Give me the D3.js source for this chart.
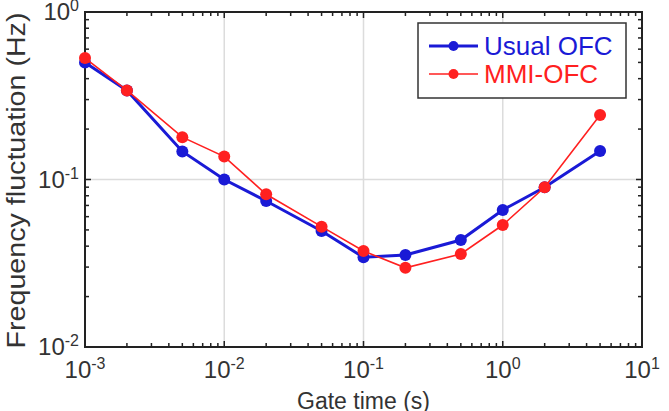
<!DOCTYPE html>
<html>
<head>
<meta charset="utf-8">
<script src="https://cdn.jsdelivr.net/npm/d3@7"></script>
<style>
  html, body { margin: 0; padding: 0; background: #fff; }
  svg { display: block; font-family: "Liberation Sans", Arial, sans-serif; }
</style>
</head>
<body>
<div id="chart"></div>
<script>
(function() {

// gate times (s)
var gateTimes = [1e-3, 2e-3, 5e-3, 1e-2, 2e-2, 5e-2, 0.1, 0.2, 0.5, 1, 2, 5];
// frequency fluctuation (Hz)
var usualOFC = [0.50, 0.34, 0.147, 0.100, 0.0744, 0.0493, 0.0343, 0.0354, 0.0435, 0.0658, 0.0898, 0.148];
var mmiOFC   = [0.531, 0.34, 0.179, 0.137, 0.0816, 0.0523, 0.0374, 0.0297, 0.0359, 0.0535, 0.0898, 0.243];

var xTickExps = [-3, -2, -1, 0, 1];
var yTickExps = [-2, -1, 0];
var seriesNames = ['Usual OFC', 'MMI-OFC'];
var seriesColors = ['#1a1ad6', '#ff2020'];

var W = 669, H = 411;
var left = 85, right = 642, top = 12, bottom = 347;

var svg = d3.select('#chart').append('svg')
	.attr('width', W)
	.attr('height', H);

var x = d3.scaleLog().domain([1e-3, 1e1]).range([left, right]);
var y = d3.scaleLog().domain([1e-2, 1]).range([bottom, top]);

// grid at major decades
var g = svg.append('g').attr('class', 'grid');
xTickExps.slice(1, -1).forEach(function(e) {
	g.append('line')
		.attr('x1', x(Math.pow(10, e))).attr('x2', x(Math.pow(10, e)))
		.attr('y1', top).attr('y2', bottom)
		.attr('stroke', '#dcdcdc').attr('stroke-width', 1.5);
});
yTickExps.slice(1, -1).forEach(function(e) {
	g.append('line')
		.attr('x1', left).attr('x2', right)
		.attr('y1', y(Math.pow(10, e))).attr('y2', y(Math.pow(10, e)))
		.attr('stroke', '#dcdcdc').attr('stroke-width', 1.5);
});

// ticks (inward, all four sides)
var xTicks = x.ticks();
var yTicks = y.ticks();
function isMajor(v) {
	var l = Math.log10(v);
	return Math.abs(l - Math.round(l)) < 1e-9;
}
var ticks = svg.append('g').attr('class', 'ticks')
	.attr('stroke', '#222').attr('stroke-width', 1.5);
xTicks.forEach(function(v) {
	var len = isMajor(v) ? 6 : 4;
	ticks.append('line').attr('x1', x(v)).attr('x2', x(v)).attr('y1', bottom).attr('y2', bottom - len);
	ticks.append('line').attr('x1', x(v)).attr('x2', x(v)).attr('y1', top).attr('y2', top + len);
});
yTicks.forEach(function(v) {
	var len = isMajor(v) ? 6 : 4;
	ticks.append('line').attr('x1', left).attr('x2', left + len).attr('y1', y(v)).attr('y2', y(v));
	ticks.append('line').attr('x1', right).attr('x2', right - len).attr('y1', y(v)).attr('y2', y(v));
});

// frame
svg.append('rect')
	.attr('x', left).attr('y', top)
	.attr('width', right - left).attr('height', bottom - top)
	.attr('fill', 'none').attr('stroke', '#222').attr('stroke-width', 2);

// tick labels
function powLabel(sel, e) {
	sel.append('tspan').text('10');
	sel.append('tspan').attr('font-size', 16).attr('dy', '-0.55em').text(e);
}
xTickExps.forEach(function(e) {
	var t = svg.append('text')
		.attr('x', x(Math.pow(10, e)))
		.attr('y', 378)
		.attr('text-anchor', 'middle')
		.attr('font-size', 24)
		.attr('fill', '#333');
	powLabel(t, e);
});
yTickExps.forEach(function(e) {
	var t = svg.append('text')
		.attr('x', 79)
		.attr('y', y(Math.pow(10, e)) + 8)
		.attr('text-anchor', 'end')
		.attr('font-size', 24)
		.attr('fill', '#333');
	powLabel(t, e);
});

// axis titles
svg.append('text')
	.attr('x', (left + right) / 2)
	.attr('y', 409)
	.attr('text-anchor', 'middle')
	.attr('font-size', 23)
	.attr('fill', '#333')
	.text('Gate time (s)');
svg.append('text')
	.attr('transform', 'translate(25,' + ((top + bottom) / 2 + 1) + ') rotate(-90)')
	.attr('text-anchor', 'middle')
	.attr('font-size', 25)
	.attr('textLength', 336)
	.attr('lengthAdjust', 'spacingAndGlyphs')
	.attr('fill', '#333')
	.text('Frequency fluctuation (Hz)');

// series
var line = d3.line()
	.x(function(d) { return x(d[0]); })
	.y(function(d) { return y(d[1]); });
var seriesData = [usualOFC, mmiOFC];
var widths = [3, 1.6];
seriesData.forEach(function(vals, i) {
	var pts = gateTimes.map(function(t, k) { return [t, vals[k]]; });
	var s = svg.append('g').attr('class', 'series');
	s.append('path')
		.datum(pts)
		.attr('d', line)
		.attr('fill', 'none')
		.attr('stroke', seriesColors[i])
		.attr('stroke-width', widths[i]);
	s.selectAll('circle')
		.data(pts)
		.enter()
		.append('circle')
		.attr('cx', function(d) { return x(d[0]); })
		.attr('cy', function(d) { return y(d[1]); })
		.attr('r', 6)
		.attr('fill', seriesColors[i]);
});

// legend
var lg = svg.append('g').attr('class', 'legend');
lg.append('rect')
	.attr('x', 418).attr('y', 23)
	.attr('width', 208).attr('height', 75)
	.attr('fill', '#fff').attr('stroke', '#333').attr('stroke-width', 1.5);
seriesNames.forEach(function(name, i) {
	var ly = 46 + i * 28;
	lg.append('line')
		.attr('x1', 429).attr('x2', 478)
		.attr('y1', ly).attr('y2', ly)
		.attr('stroke', seriesColors[i]).attr('stroke-width', widths[i]);
	lg.append('circle')
		.attr('cx', 453.5).attr('cy', ly).attr('r', 5)
		.attr('fill', seriesColors[i]);
	lg.append('text')
		.attr('x', 484).attr('y', ly + 9)
		.attr('font-size', 26)
		.attr('fill', seriesColors[i])
		.text(name);
});

})();
</script>
</body>
</html>
